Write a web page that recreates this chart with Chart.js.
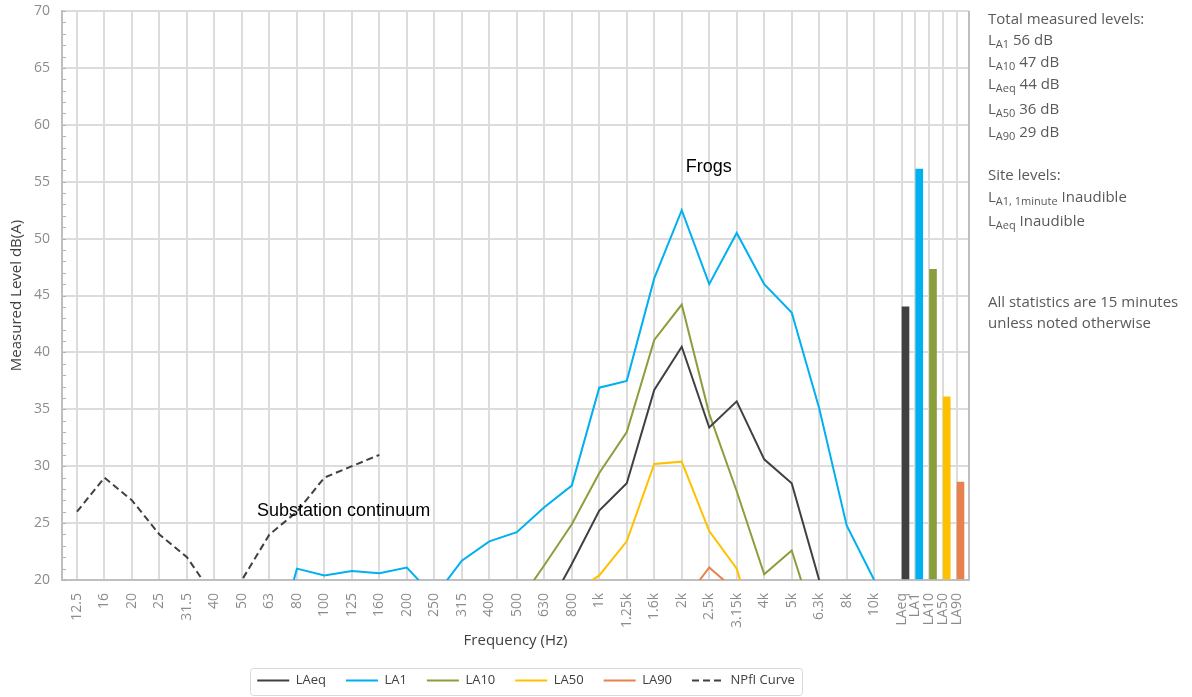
<!DOCTYPE html>
<html>
<head>
<meta charset="utf-8">
<script src="https://cdn.jsdelivr.net/npm/chart.js@4.4.1/dist/chart.umd.min.js"></script>
<style>
  html, body { margin: 0; padding: 0; background: #fff; }
  #wrap { position: relative; width: 1192px; height: 697px; overflow: hidden; }
  #c { position: absolute; left: 0; top: 0; }
  #notes { position: absolute; left: 988px; top: 0; font-family: "Open Sans", "DejaVu Sans", sans-serif; font-size: 15px; color: #595959; }
  #notes div { position: absolute; left: 0; white-space: nowrap; line-height: 22px; }
  #notes sub { font-size: 11px; vertical-align: -3px; line-height: 0; }
</style>
</head>
<body>
<div id="wrap">
  <canvas id="c" width="1192" height="697"></canvas>
  <div id="notes"></div>
</div>
<script>
// Third-octave band centre frequencies and the overall statistic columns
const freqLabels = ['12.5','16','20','25','31.5','40','50','63','80','100','125','160','200','250','315','400','500','630','800','1k','1.25k','1.6k','2k','2.5k','3.15k','4k','5k','6.3k','8k','10k'];
const totalLabels = ['LAeq','LA1','LA10','LA50','LA90'];

const N = null;
// Band levels, dB(A), one value per band above
const laeqSpectrum = [N,N,N,N,N,N,N,N,N,N,N,N,N,N,N,N,N,17.0,21.4,26.1,28.5,36.7,40.5,33.4,35.7,30.6,28.5,20.0,N,N];
const la1Spectrum  = [N,N,N,N,N,N,N,12.0,21.0,20.4,20.8,20.6,21.1,18.5,21.7,23.4,24.2,26.4,28.3,36.9,37.5,46.5,52.5,46.0,50.5,46.0,43.5,35.1,24.8,20.0];
const la10Spectrum = [N,N,N,N,N,N,N,N,N,N,N,N,N,N,N,N,17.8,21.3,24.9,29.4,33.0,41.1,44.2,34.6,27.8,20.5,22.6,15.0,N,N];
const la50Spectrum = [N,N,N,N,N,N,N,N,N,N,N,N,N,N,N,N,N,N,18.8,20.4,23.4,30.2,30.4,24.3,21.0,13.0,N,N,N,N];
const la90Spectrum = [N,N,N,N,N,N,N,N,N,N,N,N,N,N,N,N,N,N,N,N,N,N,17.9,21.1,19.0,N,N,N,N,N];
const npflCurve    = [26,29,27,24,22,18.5,20,24,26,29,30,31,N,N,N,N,N,N,N,N,N,N,N,N,N,N,N,N,N,N];

// Overall measured levels, same order as totalLabels
const totalLevels = [44.0, 56.1, 47.3, 36.1, 28.6];

const seriesColor = { LAeq: '#404040', LA1: '#00b0f0', LA10: '#8a9e3c', LA50: '#ffc000', LA90: '#e5824f', NPfI: '#404040' };
const FONT = "'Open Sans', 'DejaVu Sans', sans-serif";

// x positions: one unit per band, total columns packed at half spacing after the last band
const bandPos = i => i;
const totalPos = k => freqLabels.length + k * 0.5;
const tickPositions = freqLabels.map((_, i) => bandPos(i)).concat(totalLabels.map((_, k) => totalPos(k)));
const tickText = freqLabels.concat(totalLabels);

const toPoints = arr => arr.map((v, i) => ({ x: bandPos(i), y: v }));

function lineSet(label, arr, color, dash) {
  return {
    type: 'line', label, data: toPoints(arr),
    borderColor: color, backgroundColor: color, borderWidth: 2,
    borderDash: dash || [], pointRadius: 0, pointHoverRadius: 0,
    tension: 0, spanGaps: false, clip: 0, fill: false
  };
}

const datasets = [
  lineSet('LAeq', laeqSpectrum, seriesColor.LAeq),
  lineSet('LA1', la1Spectrum, seriesColor.LA1),
  lineSet('LA10', la10Spectrum, seriesColor.LA10),
  lineSet('LA50', la50Spectrum, seriesColor.LA50),
  lineSet('LA90', la90Spectrum, seriesColor.LA90),
  lineSet('NPfI Curve', npflCurve, seriesColor.NPfI, [7, 4]),
  {
    type: 'bar', label: 'Totals',
    data: totalLabels.map((_, k) => ({ x: totalPos(k) + 0.14, y: totalLevels[k] })),
    backgroundColor: totalLabels.map(n => seriesColor[n]),
    barThickness: 7, base: 20, grouped: false, borderWidth: 0
  }
];

// Text placed on the plot, in data coordinates (left edge, baseline)
const plotNotes = [
  { text: 'Frogs', x: 22.15, y: 55.85 },
  { text: 'Substation continuum', x: 6.55, y: 25.62 }
];

const LEGEND_CENTER_X = 526;

// Legend entries drawn as short line samples, dashed where the series is dashed
function legendLabels(chart) {
  const items = Chart.defaults.plugins.legend.labels.generateLabels(chart);
  return items.filter(it => it.datasetIndex < 6).map(it => {
    const ds = chart.data.datasets[it.datasetIndex];
    it.lineDash = ds.borderDash || [];
    it.lineWidth = ds.borderWidth;
    it.strokeStyle = ds.borderColor;
    it.pointStyle = 'line';
    return it;
  });
}

const decor = {
  id: 'decor',
  afterLayout(chart) {
    const lg = chart.legend;
    if (!lg || !lg.lineWidths) return;
    const pad = lg.options.labels.padding;
    const lw = lg.lineWidths[0];
    const start = (lg.left + pad + lg.right - lw) / 2;
    const target = LEGEND_CENTER_X - (lw - pad) / 2;
    const d = target - start;
    lg.left += d; lg.right += d;
  },
  afterDraw(chart) {
    const { ctx, chartArea: a, scales } = chart;
    const y = scales.y, x = scales.x;
    ctx.save();
    // right frame line
    ctx.strokeStyle = '#bfbfbf'; ctx.lineWidth = 2;
    ctx.beginPath(); ctx.moveTo(a.right, a.top); ctx.lineTo(a.right, a.bottom + 1); ctx.stroke();
    // minor ticks every 1 dB along the value axis
    ctx.lineWidth = 1; ctx.strokeStyle = '#b0b0b0';
    for (let v = y.min; v <= y.max; v++) {
      const py = Math.round(y.getPixelForValue(v)) + 0.5;
      ctx.beginPath(); ctx.moveTo(a.left + 1, py); ctx.lineTo(a.left + 4, py); ctx.stroke();
    }
    // on-plot annotations
    ctx.fillStyle = '#000';
    ctx.font = "18px 'Liberation Sans', Arial, sans-serif";
    ctx.textAlign = 'left'; ctx.textBaseline = 'alphabetic';
    plotNotes.forEach(n => ctx.fillText(n.text, x.getPixelForValue(n.x), y.getPixelForValue(n.y)));
    // frame round the legend
    const lg = chart.legend;
    if (lg && lg.lineWidths) {
      const pad = lg.options.labels.padding;
      const lw = lg.lineWidths[0];
      const start = (lg.left + pad + lg.right - lw) / 2;
      const cy = lg.top + pad + lg.options.labels.font.size / 2;
      const x0 = Math.round(start - 7) + 0.5, x1 = Math.round(start + lw - pad + 7) + 0.5;
      const y0 = Math.round(cy - 13) + 0.5, y1 = Math.round(cy + 14) + 0.5;
      ctx.strokeStyle = '#d9d9d9'; ctx.lineWidth = 1;
      ctx.beginPath();
      if (ctx.roundRect) ctx.roundRect(x0, y0, x1 - x0, y1 - y0, 3); else ctx.rect(x0, y0, x1 - x0, y1 - y0);
      ctx.stroke();
    }
    ctx.restore();
  }
};

new Chart(document.getElementById('c'), {
  type: 'line',
  data: { datasets },
  options: {
    responsive: false, animation: false, devicePixelRatio: 1,
    layout: { padding: { left: 0, right: 223, top: 11, bottom: 0 } },
    plugins: {
      tooltip: { enabled: false },
      legend: {
        position: 'bottom',
        labels: {
          usePointStyle: true, pointStyle: 'line', pointStyleWidth: 32, padding: 20,
          color: '#404040', font: { family: FONT, size: 13 },
          generateLabels: legendLabels
        }
      }
    },
    scales: {
      x: {
        type: 'linear', min: -0.545, max: 32.45, offset: false,
        afterBuildTicks: s => { s.ticks = tickPositions.map(v => ({ value: v })); },
        afterFit: s => { s.height = 74; },
        ticks: {
          autoSkip: false, minRotation: 90, maxRotation: 90, padding: 13,
          color: '#8c8c8c', font: { family: FONT, size: 14 },
          callback: (v, i) => tickText[i]
        },
        grid: { color: '#dcdcdc', lineWidth: 2, drawTicks: false, offset: false },
        border: { color: '#bfbfbf', width: 2 },
        title: { display: true, text: 'Frequency (Hz)', color: '#404040', font: { family: FONT, size: 15 }, padding: { top: 0, bottom: 4 } }
      },
      y: {
        min: 20, max: 70,
        afterFit: s => { s.width = 62; },
        ticks: { stepSize: 5, padding: 0, color: '#8c8c8c', font: { family: FONT, size: 14 } },
        // label gap is taken by invisible tick marks, so no extra top padding is added
        grid: { color: '#dcdcdc', lineWidth: 2, drawTicks: true, tickLength: 12, tickColor: 'rgba(0,0,0,0)' },
        border: { color: '#bfbfbf', width: 2 },
        title: { display: true, text: 'Measured Level dB(A)', color: '#404040', font: { family: FONT, size: 15 }, padding: { top: 8, bottom: 0 } }
      }
    }
  },
  plugins: [decor]
});

// Side notes: overall levels listed from highest to lowest
const subL = name => 'L<sub>' + name.slice(1) + '</sub>';
const ranked = totalLabels.map((n, k) => ({ n, v: totalLevels[k] })).sort((a, b) => b.v - a.v);
const rankedBaselines = [45, 67, 89, 114, 137];
const noteLines = [['Total measured levels:', 24]]
  .concat(ranked.map((r, i) => [subL(r.n) + ' ' + Math.round(r.v) + ' dB', rankedBaselines[i]]))
  .concat([
    ['Site levels:', 180],
    ['L<sub>A1, 1minute</sub> Inaudible', 202],
    ['L<sub>Aeq</sub> Inaudible', 226],
    ['All statistics are 15 minutes', 307],
    ['unless noted otherwise', 328]
  ]);
const notesEl = document.getElementById('notes');
noteLines.forEach(([html, base]) => {
  const d = document.createElement('div');
  d.innerHTML = html;
  d.style.top = (base - 17) + 'px';
  notesEl.appendChild(d);
});
</script>
</body>
</html>
